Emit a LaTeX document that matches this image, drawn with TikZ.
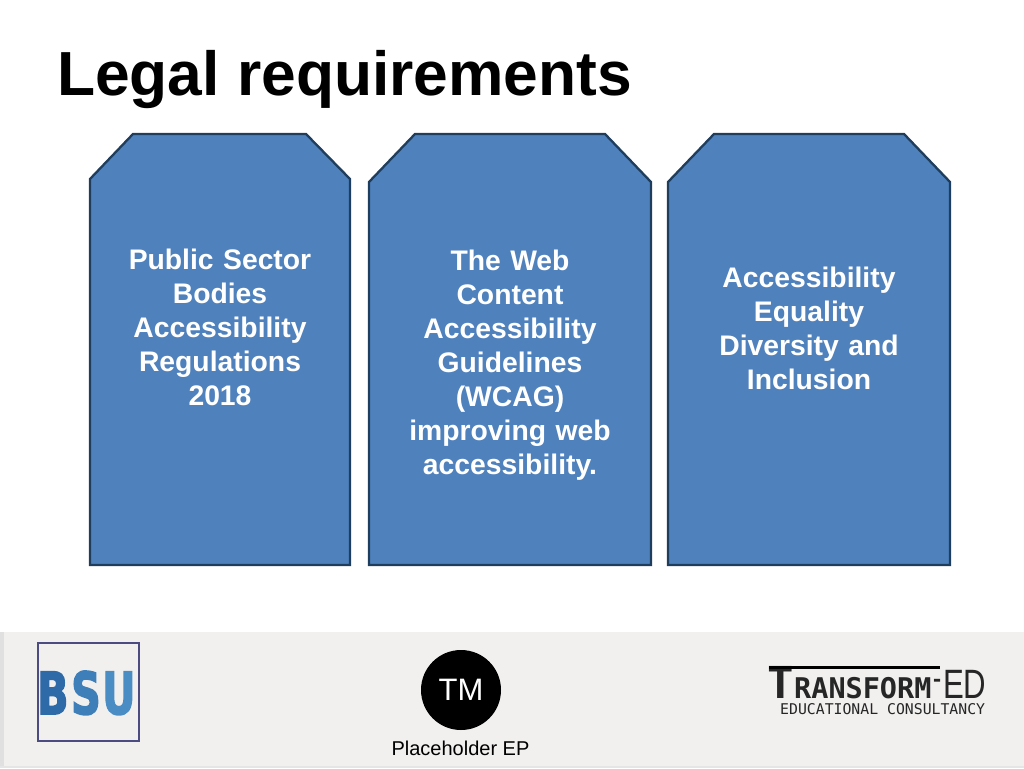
\documentclass[tikz,border=0pt]{standalone}
\usepackage{fontspec}
\setmainfont{Liberation Sans}
\newfontfamily\monofont{DejaVu Sans Mono}
\newfontfamily\heavyfont[BoldFeatures={FakeBold=3}]{DejaVu Sans}
\usepackage{tikz}
\usetikzlibrary{positioning}
\definecolor{boxblue}{HTML}{4F81BD}
\definecolor{boxline}{HTML}{1F3D5C}
\definecolor{footgrey}{HTML}{F2F0EF}
\tikzstyle{panel} = [draw=boxline, fill=boxblue, line width=2.3pt, line join=miter]
\tikzstyle{panellabel} = [text=white, text width=270pt, align=center, inner sep=0pt,
font=\fontsize{28.3}{34}\selectfont\bfseries]
\tikzstyle{bsuletter} = [inner sep=0pt, xscale=0.71, transform shape,
font=\heavyfont\fontsize{58}{58}\selectfont\bfseries]
\tikzstyle{tedmono} = [inner sep=0pt, anchor=base west, text=black!85]

\begin{document}
\begin{tikzpicture}[x=1pt, y=-1pt]
\useasboundingbox (0,0) rectangle (1024,768);
% Footer band
\fill [footgrey] (0,632) rectangle (1024,768);
\fill [black!12] (0,632) rectangle (4,768);
\fill [black!10] (0,766) rectangle (1024,768);

% Place title
\node [inner sep=0pt, anchor=base west, font=\fontsize{62.3}{70}\selectfont\bfseries] (title)
  at (57,95) {Legal requirements};

% Place panels
\draw [panel] (133,134) -- (306,134) -- (350,179) -- (350,565) -- (90,565) -- (90,179) -- cycle;
\draw [panel] (415,134) -- (605,134) -- (651,182) -- (651,565) -- (369,565) -- (369,182) -- cycle;
\draw [panel] (714,134) -- (904,134) -- (950,182) -- (950,565) -- (668,565) -- (668,182) -- cycle;
\node [panellabel] (law1) at (220,327) {Public Sector\\Bodies\\Accessibility\\Regulations\\2018};
\node [panellabel] (law2) at (510,365) {The Web\\Content\\Accessibility\\Guidelines\\(WCAG)\\improving web\\accessibility.};
\node [panellabel] (law3) at (809,328) {Accessibility\\Equality\\Diversity and\\Inclusion};

% BSU logo
\draw [draw=black!70!blue!70, line width=1.5pt] (38,643) rectangle (139,741);
\node [bsuletter, anchor=base west, text={rgb,255:red,47;green,106;blue,168}] (bsuB) at (37,714) {B};
\node [bsuletter, anchor=base west, text={rgb,255:red,63;green,127;blue,185}] (bsuS) at (71,714) {S};
\node [bsuletter, anchor=base west, text={rgb,255:red,74;green,140;blue,196}] (bsuU) at (102,714) {U};

% TM logo
\node [circle, fill=black, minimum size=80pt, inner sep=0pt, text=white,
  font=\fontsize{31}{31}\selectfont] (tm) at (461,690) {TM};
\node [inner sep=0pt, font=\fontsize{20}{20}\selectfont] (ep) at (460.5,748) {Placeholder EP};

% Transform-ED logo
\node [tedmono, font=\monofont\fontsize{44}{44}\selectfont\bfseries] (tedT) at (767,698) {T};
\node [tedmono, font=\monofont\fontsize{28.5}{28.5}\selectfont\bfseries] (tedR) at (794,698) {RANSFORM};
\node [tedmono, font=\monofont\fontsize{20}{20}\selectfont\bfseries] (tedH) at (931,686) {-};
\node [tedmono, xscale=0.76, transform shape, font=\fontsize{41}{41}\selectfont] (tedE) at (943,698) {ED};
\node [tedmono, font=\monofont\fontsize{14.8}{14.8}\selectfont] (tedC) at (780,714.5) {EDUCATIONAL CONSULTANCY};
\fill [black] (769,666) rectangle (940,668.5);
\end{tikzpicture}
\end{document}
